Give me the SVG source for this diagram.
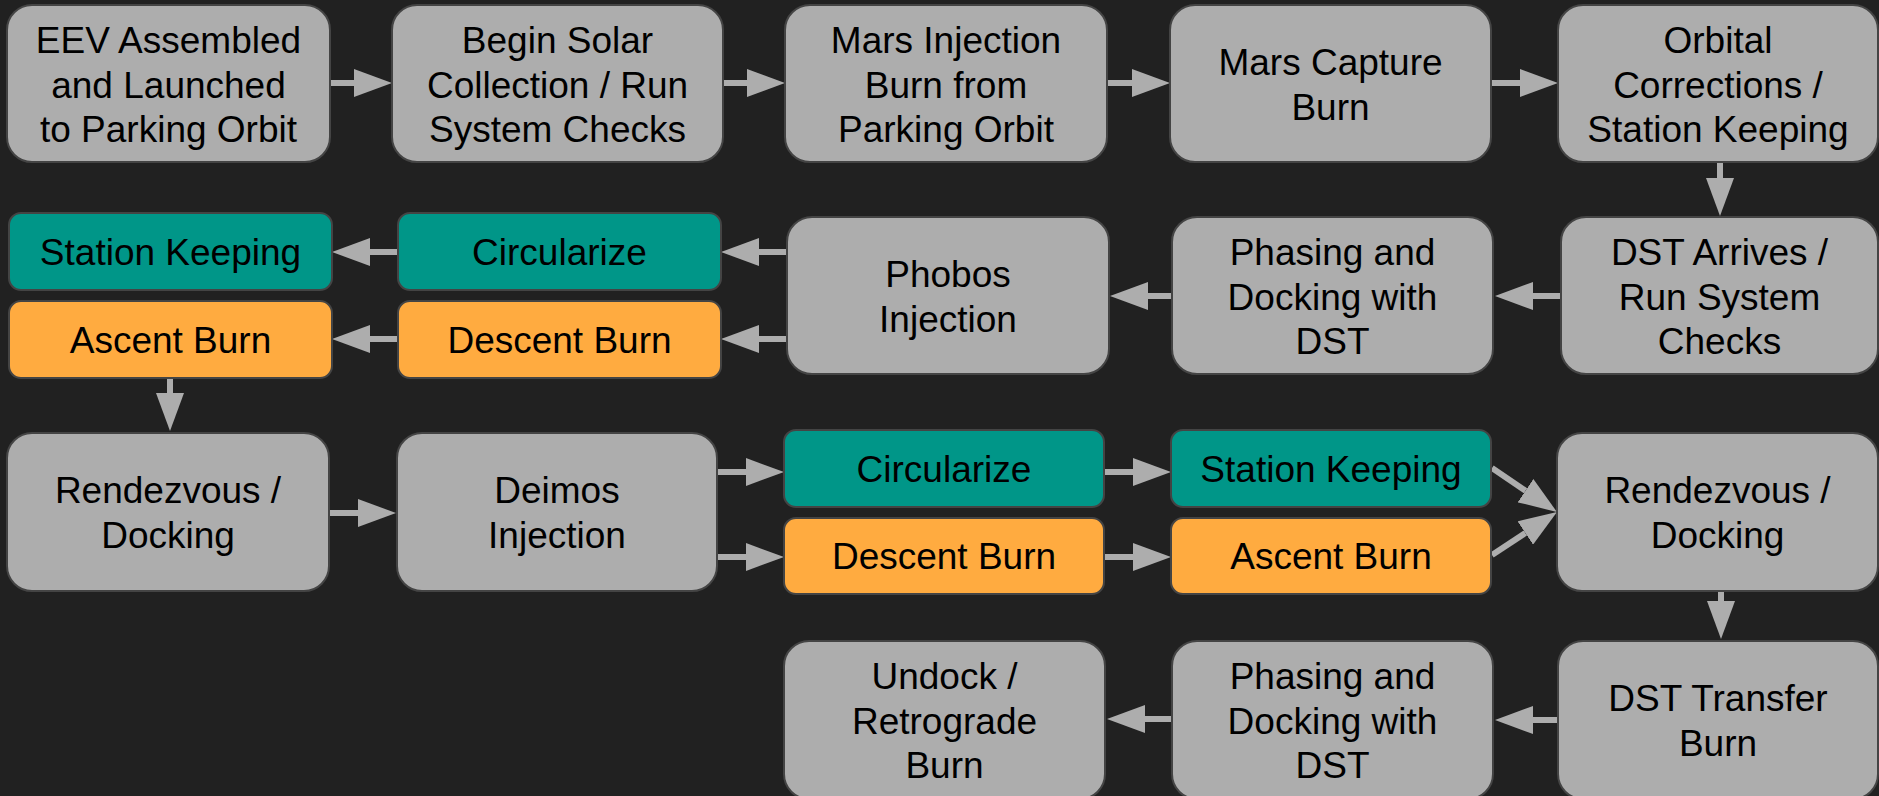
<svg xmlns="http://www.w3.org/2000/svg" width="1879" height="796" viewBox="0 0 1879 796" font-family="'Liberation Sans', Arial, sans-serif">
<style>
.big{fill:#adadad;stroke:#444;stroke-width:2}
.teal{fill:#009688;stroke:#444;stroke-width:2}
.orange{fill:#ffab40;stroke:#444;stroke-width:2}
text{font-family:'Liberation Sans',Arial,sans-serif;font-size:37px;fill:#000;text-anchor:middle}
.c line{stroke:#adadad;stroke-width:6;marker-end:url(#ah)}
</style>
<defs>
<marker id="ah" markerUnits="userSpaceOnUse" markerWidth="38" markerHeight="28" refX="0" refY="14" orient="auto">
<path d="M0,0 L38,14 L0,28 z" fill="#adadad"/>
</marker>
</defs>
<rect width="1879" height="796" fill="#212121"/>
<g class="c" id="connectors">
<line x1="330" y1="83" x2="354" y2="83"/>
<line x1="723" y1="83" x2="747" y2="83"/>
<line x1="1107" y1="83" x2="1132" y2="83"/>
<line x1="1491" y1="83" x2="1520" y2="83"/>
<line x1="1720" y1="162" x2="1720" y2="178"/>
<line x1="1561" y1="296" x2="1533" y2="296"/>
<line x1="1172" y1="296" x2="1148" y2="296"/>
<line x1="787" y1="252" x2="759" y2="252"/>
<line x1="787" y1="339" x2="759" y2="339"/>
<line x1="398" y1="252" x2="370" y2="252"/>
<line x1="398" y1="339" x2="370" y2="339"/>
<line x1="170" y1="378" x2="170" y2="393"/>
<line x1="329" y1="513" x2="358" y2="513"/>
<line x1="717" y1="472" x2="746" y2="472"/>
<line x1="717" y1="557" x2="746" y2="557"/>
<line x1="1104" y1="472" x2="1133" y2="472"/>
<line x1="1104" y1="557" x2="1133" y2="557"/>
<line x1="1492" y1="468" x2="1525.5" y2="490.7"/>
<line x1="1492" y1="555" x2="1525.3" y2="533"/>
<line x1="1721" y1="591" x2="1721" y2="601"/>
<line x1="1558" y1="720" x2="1533" y2="720"/>
<line x1="1172" y1="719" x2="1145" y2="719"/>
</g>
<g id="n1"><rect class="big" x="7" y="5" width="323" height="157" rx="25"/><text x="168.5" y="53">EEV Assembled</text><text x="168.5" y="97.5">and Launched</text><text x="168.5" y="142">to Parking Orbit</text></g>
<g id="n2"><rect class="big" x="392" y="5" width="331" height="157" rx="25"/><text x="557.5" y="53">Begin Solar</text><text x="557.5" y="97.5">Collection / Run</text><text x="557.5" y="142">System Checks</text></g>
<g id="n3"><rect class="big" x="785" y="5" width="322" height="157" rx="25"/><text x="946" y="53">Mars Injection</text><text x="946" y="97.5">Burn from</text><text x="946" y="142">Parking Orbit</text></g>
<g id="n4"><rect class="big" x="1170" y="5" width="321" height="157" rx="25"/><text x="1330.5" y="75">Mars Capture</text><text x="1330.5" y="119.5">Burn</text></g>
<g id="n5"><rect class="big" x="1558" y="5" width="320" height="157" rx="25"/><text x="1718" y="53">Orbital</text><text x="1718" y="97.5">Corrections /</text><text x="1718" y="142">Station Keeping</text></g>
<g id="n6"><rect class="big" x="1561" y="217" width="317" height="157" rx="25"/><text x="1719.5" y="265">DST Arrives /</text><text x="1719.5" y="309.5">Run System</text><text x="1719.5" y="354">Checks</text></g>
<g id="n7"><rect class="big" x="1172" y="217" width="321" height="157" rx="25"/><text x="1332.5" y="265">Phasing and</text><text x="1332.5" y="309.5">Docking with</text><text x="1332.5" y="354">DST</text></g>
<g id="n8"><rect class="big" x="787" y="217" width="322" height="157" rx="25"/><text x="948" y="287">Phobos</text><text x="948" y="331.5">Injection</text></g>
<g id="n9"><rect class="teal" x="398" y="213" width="323" height="77" rx="12"/><text x="559.5" y="264.5">Circularize</text></g>
<g id="n10"><rect class="orange" x="398" y="301" width="323" height="77" rx="12"/><text x="559.5" y="352.5">Descent Burn</text></g>
<g id="n11"><rect class="teal" x="9" y="213" width="323" height="77" rx="12"/><text x="170.5" y="264.5">Station Keeping</text></g>
<g id="n12"><rect class="orange" x="9" y="301" width="323" height="77" rx="12"/><text x="170.5" y="352.5">Ascent Burn</text></g>
<g id="n13"><rect class="big" x="7" y="433" width="322" height="158" rx="25"/><text x="168" y="503">Rendezvous /</text><text x="168" y="547.5">Docking</text></g>
<g id="n14"><rect class="big" x="397" y="433" width="320" height="158" rx="25"/><text x="557" y="503">Deimos</text><text x="557" y="547.5">Injection</text></g>
<g id="n15"><rect class="teal" x="784" y="430" width="320" height="77" rx="12"/><text x="944" y="481.5">Circularize</text></g>
<g id="n16"><rect class="orange" x="784" y="518" width="320" height="76" rx="12"/><text x="944" y="569">Descent Burn</text></g>
<g id="n17"><rect class="teal" x="1171" y="430" width="320" height="77" rx="12"/><text x="1331" y="481.5">Station Keeping</text></g>
<g id="n18"><rect class="orange" x="1171" y="518" width="320" height="76" rx="12"/><text x="1331" y="569">Ascent Burn</text></g>
<g id="n19"><rect class="big" x="1557" y="433" width="321" height="158" rx="25"/><text x="1717.5" y="503">Rendezvous /</text><text x="1717.5" y="547.5">Docking</text></g>
<g id="n20"><rect class="big" x="1558" y="641" width="320" height="158" rx="25"/><text x="1718" y="711">DST Transfer</text><text x="1718" y="755.5">Burn</text></g>
<g id="n21"><rect class="big" x="1172" y="641" width="321" height="158" rx="25"/><text x="1332.5" y="689">Phasing and</text><text x="1332.5" y="733.5">Docking with</text><text x="1332.5" y="778">DST</text></g>
<g id="n22"><rect class="big" x="784" y="641" width="321" height="158" rx="25"/><text x="944.5" y="689">Undock /</text><text x="944.5" y="733.5">Retrograde</text><text x="944.5" y="778">Burn</text></g>
</svg>
